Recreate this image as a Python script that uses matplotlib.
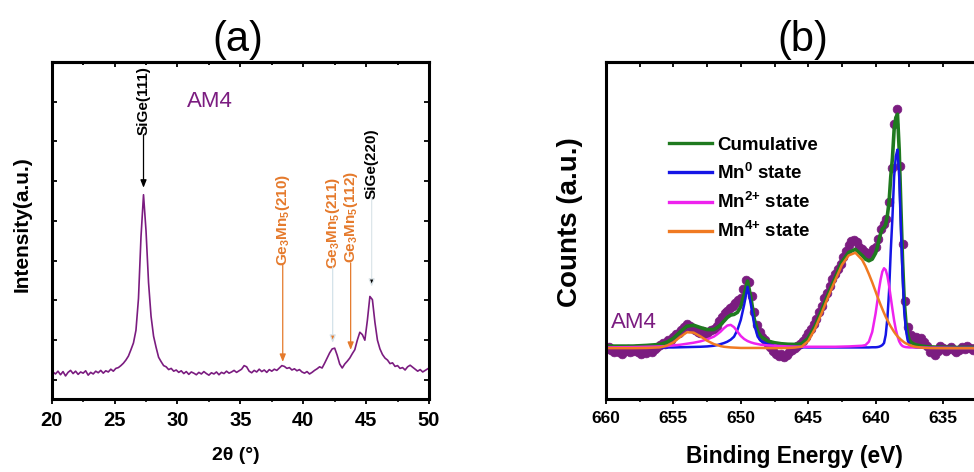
import numpy as np
import matplotlib
matplotlib.use('Agg')
import matplotlib.pyplot as plt
from matplotlib.ticker import MultipleLocator
from matplotlib.lines import Line2D

plt.rcParams['font.family'] = ['Liberation Sans', 'DejaVu Sans']
plt.rcParams['mathtext.default'] = 'regular'

# ---------------- (a) XRD data ----------------
twotheta_start, twotheta_step = 20.1, 0.2
xrd_intensity = [
    0.20, 0.15, 0.22, 0.13, 0.21, 0.10, 0.19, 0.24, 0.16, 0.22,
    0.14, 0.20, 0.17, 0.23, 0.12, 0.19, 0.15, 0.22, 0.18, 0.24,
    0.17, 0.23, 0.20, 0.27, 0.22, 0.29, 0.31, 0.36, 0.42, 0.50,
    0.60, 0.76, 0.93, 1.25, 2.05, 3.60, 4.66, 3.75, 2.45, 1.60,
    1.10, 0.82, 0.57, 0.46, 0.36, 0.33, 0.26, 0.29, 0.22, 0.25,
    0.19, 0.23, 0.16, 0.21, 0.14, 0.20, 0.17, 0.13, 0.19, 0.15,
    0.21, 0.16, 0.12, 0.18, 0.15, 0.20, 0.13, 0.19, 0.16, 0.22,
    0.17, 0.20, 0.24, 0.19, 0.23, 0.27, 0.36, 0.33, 0.22, 0.18,
    0.24, 0.20, 0.27, 0.21, 0.25, 0.19, 0.26, 0.22, 0.27, 0.24,
    0.30, 0.36, 0.34, 0.29, 0.31, 0.25, 0.28, 0.23, 0.26, 0.20,
    0.17, 0.21, 0.15, 0.19, 0.24, 0.28, 0.33, 0.30, 0.42, 0.55,
    0.68, 0.78, 0.80, 0.62, 0.40, 0.30, 0.40, 0.47, 0.55, 0.66,
    0.76, 1.00, 1.20, 1.14, 1.00, 1.50, 2.10, 2.02, 1.45, 1.00,
    0.78, 0.64, 0.55, 0.50, 0.41, 0.43, 0.34, 0.36, 0.29, 0.31,
    0.25, 0.33, 0.37, 0.32, 0.27, 0.22, 0.26, 0.20, 0.24, 0.28,
]
twotheta = np.round(twotheta_start + twotheta_step * np.arange(len(xrd_intensity)), 2)
xrd_xticks = [20, 25, 30, 35, 40, 45, 50]

xrd_peak_labels = ['SiGe(111)', 'Ge$_3$Mn$_5$(210)', 'Ge$_3$Mn$_5$(211)', 'Ge$_3$Mn$_5$(112)', 'SiGe(220)']
xrd_peak_pos = [27.3, 38.37, 42.34, 43.77, 45.44]

# ---------------- (b) XPS data ----------------
xps_start, xps_stop = 660.0, 630.0
xps_counts = [
    -0.3, 0.3, -0.6, -1.0, -0.4, -1.2, -1.6, -0.8, -0.3, -1.2,
    -0.9, -0.2, -1.1, -1.6, -0.9, -1.4, -0.6, -1.0, -0.2, 0.4,
    0.9, 1.5, 1.3, 2.4, 2.6, 3.3, 4.2, 4.6, 5.6, 6.3,
    7.2, 6.8, 6.0, 5.4, 5.0, 4.6, 5.2, 4.4, 4.9, 5.5,
    5.9, 6.8, 8.2, 9.3, 10.6, 11.2, 12.0, 12.6, 13.4, 14.3,
    15.0, 17.6, 20.4, 19.6, 15.5, 10.8, 7.0, 5.0, 3.4, 2.6,
    1.2, 0.3, -0.8, -1.6, -2.2, -1.7, -2.4, -1.9, -1.2, -0.6,
    0.2, 0.8, 1.4, 2.2, 3.4, 4.6, 5.8, 7.4, 8.8, 10.9,
    12.6, 14.9, 16.6, 18.4, 20.5, 22.1, 23.6, 25.2, 27.0, 28.8,
    30.6, 31.8, 32.3, 31.6, 30.2, 29.4, 28.6, 27.8, 28.4, 29.6,
    30.2, 32.5, 35.3, 37.0, 38.5, 43.5, 53.5, 66.5, 71.0, 54.0,
    31.0, 14.0, 6.5, 4.0, 3.0, 3.4, 2.6, 3.2, 1.8, 0.6,
    -1.2, -0.4, -1.8, -0.9, 0.6, 0.2, -0.8, -0.3, 0.5, -0.6,
    -1.2, -0.4, 0.4, -0.2, 0.8, 0.2, -0.6, 0.1, -0.4, 0.3,
    -0.2, 0.4, -0.5, 0.0, 0.5, -0.3, 0.2, -0.4, 0.3, -0.1,
    0.2,
]
xps_energy = np.linspace(xps_start, xps_stop, len(xps_counts))
xps_xticks = [660, 655, 650, 645, 640, 635]

fit_energy = [660, 659, 658, 657, 656, 655.5, 655, 654.5, 654, 653.5,
              653, 652.5, 652, 651.75, 651.5, 651.25, 651, 650.75, 650.5, 650.25,
              650, 649.75, 649.5, 649.25, 649, 648.75, 648.5, 648, 647.5, 647,
              646.5, 646, 645.5, 645, 644.5, 644, 643.5, 643, 642.5, 642,
              641.5, 641, 640.75, 640.5, 640.25, 640, 639.875, 639.75, 639.625, 639.5,
              639.375, 639.25, 639.125, 639, 638.875, 638.75, 638.625, 638.5, 638.375, 638.25,
              638.125, 638, 637.875, 637.75, 637.625, 637.5, 637.375, 637.25, 637.125, 637,
              636.5, 636, 635, 634, 633, 632, 631, 630]
fit_cumulative = [0.7, 0.7, 0.7, 0.9, 1.2, 1.8, 3.0, 4.9, 6.6, 6.9,
                  6.2, 5.6, 5.6, 6.2, 7.0, 8.1, 9.2, 9.9, 10.1, 10.7,
                  12.4, 16.0, 20.0, 15.0, 8.7, 5.0, 3.5, 2.2, 1.7, 1.4,
                  1.25, 1.2, 1.35, 3.0, 6.6, 11.3, 16.3, 21.0, 25.7, 28.5,
                  29.4, 27.6, 26.5, 26.0, 26.5, 28.3, 30.0, 32.2, 34.1, 35.5,
                  35.9, 36.9, 39.5, 43.5, 51.0, 56.5, 65.0, 68.5, 69.5, 59.0,
                  42.0, 26.0, 14.0, 7.6, 4.2, 2.5, 1.85, 1.5, 1.26, 1.05,
                  0.65, 0.45, 0.35, 0.3, 0.3, 0.25, 0.25, 0.25]
fit_mn0 = [0.2, 0.2, 0.2, 0.25, 0.3, 0.3, 0.3, 0.35, 0.4, 0.45,
           0.5, 0.6, 0.8, 1.0, 1.3, 1.6, 2.0, 2.6, 3.5, 5.5,
           8.5, 13.0, 18.3, 13.0, 7.0, 3.5, 2.2, 1.2, 0.8, 0.6,
           0.5, 0.4, 0.35, 0.3, 0.3, 0.3, 0.3, 0.3, 0.3, 0.3,
           0.3, 0.3, 0.3, 0.3, 0.35, 0.35, 0.4, 0.5, 0.7, 1.0,
           1.6, 4.0, 9.0, 17.0, 29.0, 39.0, 51.0, 57.0, 59.0, 51.0,
           36.0, 22.0, 11.0, 5.5, 2.5, 1.2, 0.7, 0.5, 0.4, 0.3,
           0.2, 0.15, 0.1, 0.1, 0.1, 0.1, 0.1, 0.1]
fit_mn2 = [0.3, 0.35, 0.4, 0.5, 0.6, 0.7, 0.9, 1.1, 1.4, 1.7,
           2.1, 2.7, 3.5, 4.2, 5.0, 6.0, 6.8, 7.0, 6.3, 5.0,
           3.7, 2.8, 2.2, 1.8, 1.5, 1.3, 1.1, 0.9, 0.8, 0.7,
           0.6, 0.55, 0.5, 0.5, 0.5, 0.5, 0.5, 0.5, 0.55, 0.6,
           0.7, 0.8, 1.0, 2.0, 4.9, 10.4, 13.9, 17.5, 20.5, 22.8,
           23.8, 23.3, 21.5, 18.6, 15.1, 11.6, 8.3, 5.6, 3.6, 2.1,
           1.2, 0.7, 0.5, 0.4, 0.35, 0.3, 0.3, 0.3, 0.3, 0.3,
           0.25, 0.2, 0.2, 0.15, 0.15, 0.1, 0.1, 0.1]
fit_mn4 = [0.1, 0.1, 0.1, 0.15, 0.3, 0.8, 1.8, 3.4, 4.8, 4.7,
           3.6, 2.3, 1.3, 1.0, 0.7, 0.5, 0.4, 0.3, 0.25, 0.2,
           0.15, 0.15, 0.15, 0.15, 0.15, 0.15, 0.15, 0.1, 0.1, 0.1,
           0.15, 0.25, 0.5, 2.2, 5.8, 10.5, 15.5, 20.2, 24.8, 27.6,
           28.4, 26.3, 24.4, 22.1, 19.6, 16.9, 15.5, 14.2, 12.9, 11.7,
           10.5, 9.4, 8.4, 7.4, 6.5, 5.7, 4.9, 4.2, 3.6, 3.1,
           2.6, 2.2, 1.8, 1.5, 1.27, 1.04, 0.85, 0.69, 0.56, 0.45,
           0.2, 0.1, 0.05, 0.05, 0.05, 0.05, 0.05, 0.05]
fit_labels = ['Cumulative', 'Mn$^{0}$ state', 'Mn$^{2{+}}$ state', 'Mn$^{4{+}}$ state']
fit_colors = ['#1f7a1f', '#1515e6', '#ee22ee', '#f07a22']

PURPLE = '#7b1c80'
ORANGE = '#e57a2c'

W, H = 974, 472
fig = plt.figure(figsize=(W / 100, H / 100), dpi=100)
ax1 = fig.add_axes([51.7 / W, 73 / H, 377.3 / W, 337 / H])
ax2 = fig.add_axes([606 / W, 73 / H, 404.4 / W, 337 / H])

# ---------- panel (a) ----------
ax1.plot(twotheta, xrd_intensity, color=PURPLE, lw=1.2)
ax1.set_xlim(20, 50)
ax1.set_ylim(-0.48, 8.0)
ax1.set_xticks(xrd_xticks, [str(t) for t in xrd_xticks], fontsize=14.5, fontweight='bold')
ax1.xaxis.set_minor_locator(MultipleLocator(2.5))
ax1.set_yticks(range(8))
ax1.tick_params(axis='y', which='major', direction='in', left=True, right=True,
                labelleft=False, length=3.5, width=1.3)
ax1.tick_params(axis='x', which='major', direction='out', length=3.5, width=1.3, pad=5)
ax1.tick_params(axis='x', which='minor', direction='out', length=2.2, width=1.1)
sec1 = ax1.secondary_xaxis('top')
sec1.xaxis.set_major_locator(MultipleLocator(5))
sec1.xaxis.set_minor_locator(MultipleLocator(2.5))
sec1.tick_params(axis='x', which='both', direction='in', labeltop=False, width=1.3)
sec1.tick_params(axis='x', which='major', length=3.5)
sec1.tick_params(axis='x', which='minor', length=2.2)
sec1.spines['top'].set_linewidth(2.2)
for sp in ax1.spines.values():
    sp.set_linewidth(2.2)

def ydat_a(px):
    return (380 - px) / 39.7

text_specs = [  # (label index, text centre px, arrow start px, arrow end px, text colour, line colour, head colour)
    (0, 101, 135, 188, 'black', 'black', 'black'),
    (1, 220, 265, 362, ORANGE, ORANGE, ORANGE),
    (2, 223.5, 267, 343, ORANGE, '#d4e2ea', ORANGE),
    (3, 217.5, 263, 350, ORANGE, ORANGE, ORANGE),
    (4, 164, 198, 287, 'black', '#dde6ea', 'black'),
]
for i, tc, a0, a1, tcol, lcol, hcol in text_specs:
    xp = xrd_peak_pos[i]
    ax1.text(xp, ydat_a(tc), xrd_peak_labels[i], rotation=90, ha='center', va='center',
             fontsize=11, fontweight='bold', color=tcol)
    ax1.annotate('', xy=(xp, ydat_a(a1)), xytext=(xp, ydat_a(a0)),
                 arrowprops=dict(arrowstyle='-|>,head_length=0.45,head_width=0.18',
                                 ec=lcol, fc=hcol, lw=0.9, shrinkA=0, shrinkB=0))
ax1.text(32.59, ydat_a(102), 'AM4', color=PURPLE, fontsize=16, ha='center', va='center')

# ---------- panel (b) ----------
ax2.plot(xps_energy, xps_counts, 'o', color=PURPLE, ms=6.3, mec=PURPLE, mew=0.5, zorder=1)
series = [fit_cumulative, fit_mn0, fit_mn2, fit_mn4]
widths = [2.6, 1.8, 1.8, 1.8]
handles = []
for vals, lab, col, lw in zip(series, fit_labels, fit_colors, widths):
    ax2.plot(fit_energy, vals, color=col, lw=lw, zorder=2)
    handles.append(Line2D([], [], color=col, lw=2.4))
ax2.set_xlim(660, 630)
ax2.set_ylim(-15, 85)
ax2.set_xticks(xps_xticks, [str(t) for t in xps_xticks], fontsize=12.5, fontweight='bold')
ax2.xaxis.set_minor_locator(MultipleLocator(2.5))
ax2.set_yticks([])
ax2.tick_params(axis='x', which='major', direction='out', length=3.5, width=1.3, pad=5)
ax2.tick_params(axis='x', which='minor', direction='out', length=2.2, width=1.1)
sec2 = ax2.secondary_xaxis('top')
sec2.xaxis.set_major_locator(MultipleLocator(5))
sec2.xaxis.set_minor_locator(MultipleLocator(2.5))
sec2.tick_params(axis='x', which='both', direction='in', labeltop=False, width=1.3, length=3.5)
sec2.spines['top'].set_linewidth(2.2)
for sp in ax2.spines.values():
    sp.set_linewidth(2.2)

leg = ax2.legend(handles, fit_labels, loc='upper left', bbox_to_anchor=(0.155, 0.778),
                 frameon=False, prop=dict(weight='bold', size=13.5),
                 handlelength=2.3, handletextpad=0.3, labelspacing=0.48,
                 borderpad=0, borderaxespad=0)
ax2.text(657.9, (399 - 323) / 3.37 - 15, 'AM4', color=PURPLE, fontsize=16,
         ha='center', va='center')

# ---------- titles and axis labels ----------
fig.text(238 / W, 1 - 39.5 / H, '(a)', fontsize=30, ha='center', va='center')
fig.text(803 / W, 1 - 39.5 / H, '(b)', fontsize=30, ha='center', va='center')
fig.text(22 / W, 1 - 224 / H, 'Intensity(a.u.)', rotation=90, fontsize=15,
         fontweight='bold', ha='center', va='center')
fig.text(235.5 / W, 1 - 455 / H, '2θ (°)', fontsize=14, fontweight='bold',
         ha='center', va='center')
fig.text(570 / W, 1 - 222.5 / H, 'Counts (a.u.)', rotation=90, fontsize=20,
         fontweight='bold', ha='center', va='center')
fig.text(794.5 / W, 1 - 456 / H, 'Binding Energy (eV)', fontsize=16.4,
         fontweight='bold', ha='center', va='center')

fig.savefig('out.png', dpi=100)
